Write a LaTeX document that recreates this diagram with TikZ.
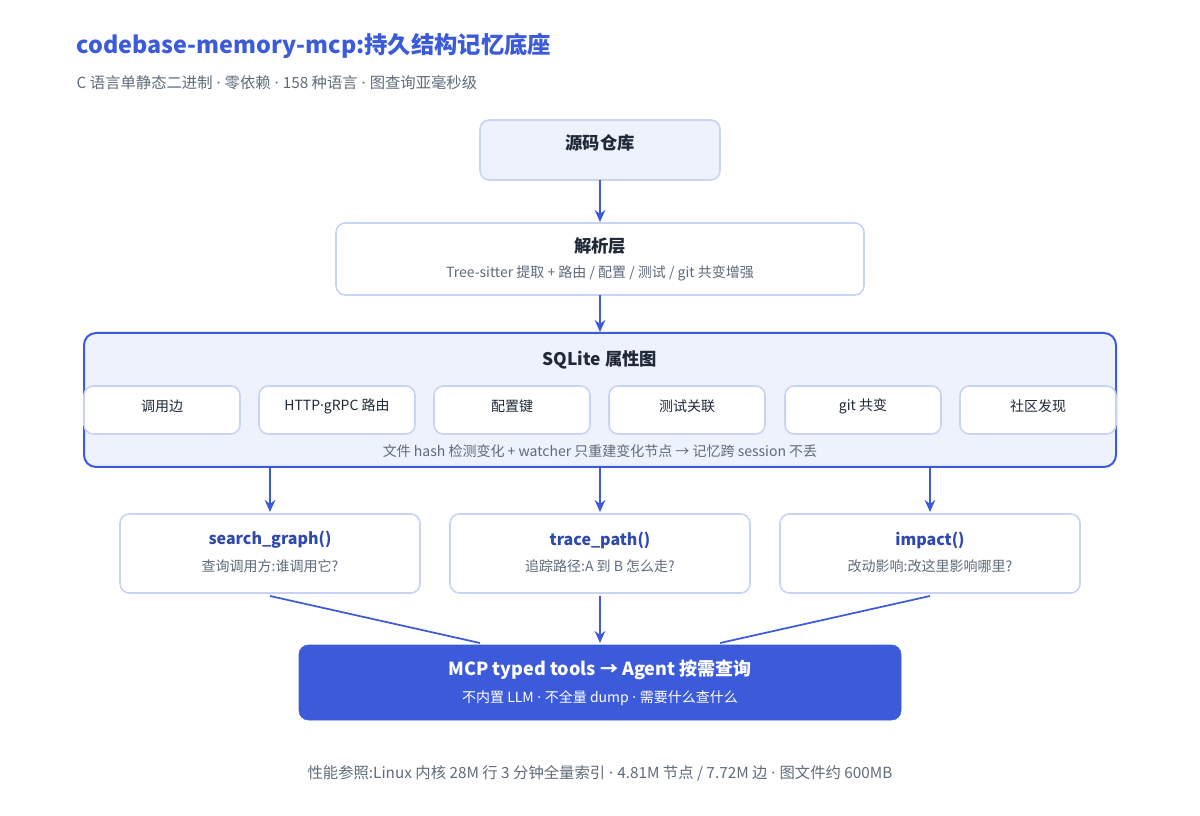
\documentclass[tikz,border=0pt]{standalone}
\usepackage{fontspec}
\setmainfont{Noto Sans CJK SC}
\newfontfamily\latin{Noto Sans}
\newcommand\md{{\latin\ ·\ }}
\usetikzlibrary{arrows.meta}
\definecolor{accent}{HTML}{3B5BDB}
\definecolor{pale}{HTML}{EEF2FD}
\definecolor{edge}{HTML}{C9D3F5}
\definecolor{ink}{HTML}{1F2937}
\definecolor{muted}{HTML}{5F6B7A}
\tikzset{
	box/.style={draw=edge,line width=1.2pt,rounded corners=7pt},
	flow/.style={draw=accent,line width=1.3pt,-{Stealth[length=9pt,width=8pt]}},
	title/.style={font=\bfseries\fontsize{13}{15}\selectfont,text=ink},
	note/.style={font=\fontsize{10.5}{12}\selectfont,text=muted},
	chip/.style={box,fill=white,font=\fontsize{10.5}{12}\selectfont,text=ink}
}
\begin{document}
\begin{tikzpicture}[x=0.75pt,y=-0.75pt]
	\useasboundingbox (0,0) rectangle (1200,816);
	\node[anchor=west,text=accent,font=\bfseries\fontsize{17.5}{20}\selectfont] (head) at (72,46) {codebase-memory-mcp:持久结构记忆底座};
	\node[anchor=west,note,font=\fontsize{11.5}{13}\selectfont] (sub) at (72,83) {C 语言单静态二进制\md 零依赖\md 158 种语言\md 图查询亚毫秒级};
	% source
	\draw[box,fill=pale] (480,120) rectangle (720,180);
	\node[title] (repo) at (600,143) {源码仓库};
	\coordinate (repoS) at (600,180);
	% parser
	\draw[box,fill=white] (336,223) rectangle (864,295);
	\node[title] (parse) at (600,246) {解析层};
	\node[note] (parsenote) at (600,273) {Tree-sitter 提取 + 路由 / 配置 / 测试 / git 共变增强};
	\coordinate (parseN) at (600,222);
	\coordinate (parseS) at (600,295);
	% graph store
	\draw[draw=accent,line width=1.5pt,fill=pale,rounded corners=9pt] (84,333) rectangle (1116,467);
	\node[title] (store) at (600,360) {SQLite 属性图};
	\coordinate (storeN) at (600,332);
	\foreach \x/\t in {84/调用边,259/HTTP{\latin·}gRPC 路由,434/配置键,609/测试关联,785/git 共变,960/社区发现}
		\draw[chip] (\x,386) rectangle ++(156,48) node[midway,yshift=3pt] {\t};
	\node[note] (storenote) at (600,451) {文件 hash 检测变化 + watcher 只重建变化节点 → 记忆跨 session 不丢};
	% tools
	\foreach \x/\n/\f/\d in {120/a/search\_graph()/查询调用方:谁调用它?,450/b/trace\_path()/追踪路径:A 到 B 怎么走?,780/c/impact()/改动影响:改这里影响哪里?}{
		\draw[box,fill=white] (\x,514) rectangle ++(300,79);
		\node[title,text=accent!80!black,font=\bfseries\fontsize{12}{14}\selectfont] (\n) at (\x+150,540) {\f};
		\node[note] at (\x+150,566) {\d};
		\coordinate (\n N) at (\x+150,512);
		\coordinate (\n S) at (\x+150,596);
		\draw[flow] (\x+150,467) -- (\n N);
	}
	% agent
	\draw[fill=accent,draw=accent,rounded corners=7pt] (299,645) rectangle (901,720);
	\node[text=white,font=\bfseries\fontsize{13.5}{16}\selectfont] (agent) at (600,670) {MCP typed tools → Agent 按需查询};
	\node[text=white,font=\fontsize{10.5}{12}\selectfont] (agentnote) at (600,698) {不内置 LLM\md 不全量 dump\md 需要什么查什么};
	\coordinate (agentL) at (480,643);
	\coordinate (agentM) at (600,643);
	\coordinate (agentR) at (720,643);
	\draw[flow] (repoS) -- (parseN);
	\draw[flow] (parseS) -- (storeN);
	\draw[draw=accent,line width=1.3pt] (aS) -- (agentL);
	\draw[flow] (bS) -- (agentM);
	\draw[draw=accent,line width=1.3pt] (cS) -- (agentR);
	\node[note,font=\fontsize{11.5}{13}\selectfont] (perf) at (600,773) {性能参照:Linux 内核 28M 行 3 分钟全量索引\md 4.81M 节点 / 7.72M 边\md 图文件约 600MB};
\end{tikzpicture}
\end{document}
